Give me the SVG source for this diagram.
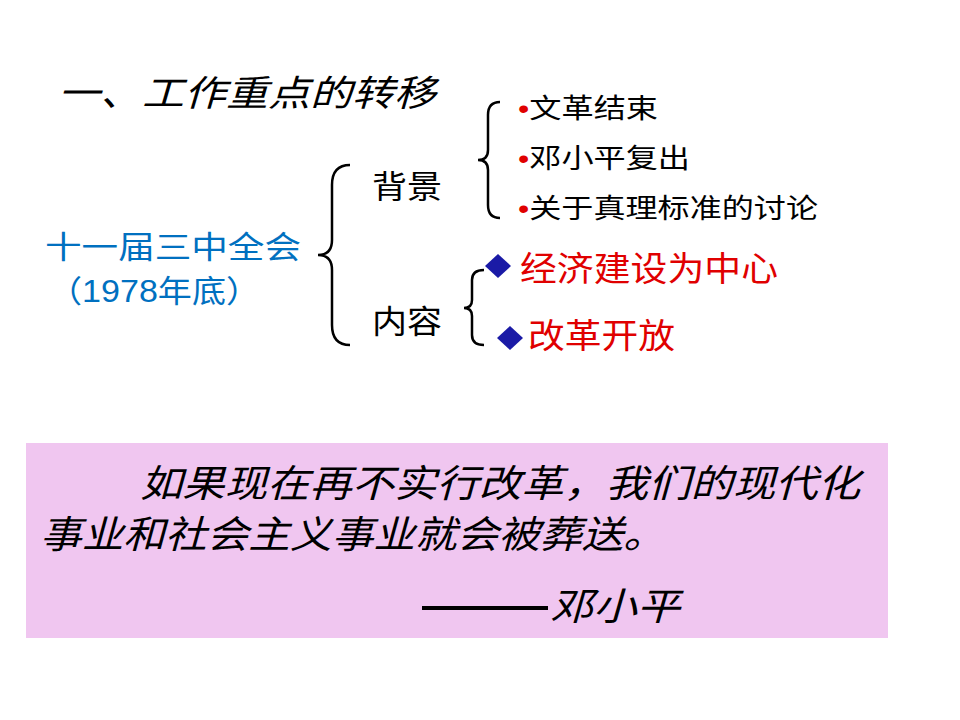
<svg xmlns="http://www.w3.org/2000/svg" width="960" height="720" viewBox="0 0 960 720">
<style>
text{font-family:"Liberation Sans","Noto Sans CJK SC",sans-serif;}
.it{font-style:italic;}
.br{fill:none;stroke:#000;stroke-width:2.5;}
.r{fill:#e00000;}
.b{fill:#0070c0;}
</style>
<rect width="960" height="720" fill="#fff"/>
<text x="58" y="106" font-size="36" class="it" textLength="378" lengthAdjust="spacingAndGlyphs">一、工作重点的转移</text>
<g id="root"><text x="45" y="258" font-size="31" class="b" textLength="256" lengthAdjust="spacingAndGlyphs">十一届三中全会</text>
<text x="48" y="302" font-size="31" class="b" textLength="212" lengthAdjust="spacingAndGlyphs">（1978年底）</text></g>
<g id="connectors">
<path class="br" d="M350,165 Q332,165 332,185 L332,240 Q332,255 318,255 Q332,255 332,270 L332,325 Q332,345 350,345"/>
<path class="br" d="M500,102 Q488,102 488,115 L488,150 Q488,160 478,160 Q488,160 488,170 L488,205 Q488,218 500,218"/>
<path class="br" d="M484,270 Q472,270 472,280 L472,300 Q472,308 464,308 Q472,308 472,316 L472,335 Q472,345 484,345"/>
</g>
<g id="bg"><text x="372" y="198" font-size="32" textLength="70" lengthAdjust="spacingAndGlyphs">背景</text></g>
<g id="nr"><text x="372" y="333" font-size="32" textLength="70" lengthAdjust="spacingAndGlyphs">内容</text></g>
<g id="b1"><text x="518" y="118" font-size="27" textLength="140" lengthAdjust="spacingAndGlyphs"><tspan class="r">•</tspan>文革结束</text></g>
<g id="b2"><text x="518" y="168" font-size="27" textLength="172" lengthAdjust="spacingAndGlyphs"><tspan class="r">•</tspan>邓小平复出</text></g>
<g id="b3"><text x="518" y="218" font-size="27" textLength="300" lengthAdjust="spacingAndGlyphs"><tspan class="r">•</tspan>关于真理标准的讨论</text></g>
<g id="c1"><path d="M498,254 L511,266 L498,278 L485,266Z" fill="#1a1aa6"/><text x="520" y="281" font-size="34" class="r" textLength="258" lengthAdjust="spacingAndGlyphs">经济建设为中心</text></g>
<g id="c2"><path d="M510,326 L523,338 L510,350 L497,338Z" fill="#1a1aa6"/><text x="528" y="348" font-size="34" class="r" textLength="147" lengthAdjust="spacingAndGlyphs">改革开放</text></g>
<g id="quote"><rect x="26" y="443" width="862" height="195" fill="#f0c6f0"/>
<text x="140" y="497" font-size="38" class="it" textLength="720" lengthAdjust="spacingAndGlyphs">如果现在再不实行改革，我们的现代化</text>
<text x="40" y="548" font-size="38" class="it" textLength="625" lengthAdjust="spacingAndGlyphs">事业和社会主义事业就会被葬送。</text>
<rect x="422" y="606" width="126" height="4" fill="#000"/>
<text x="550" y="620" font-size="38" class="it" textLength="130" lengthAdjust="spacingAndGlyphs">邓小平</text></g>
</svg>
